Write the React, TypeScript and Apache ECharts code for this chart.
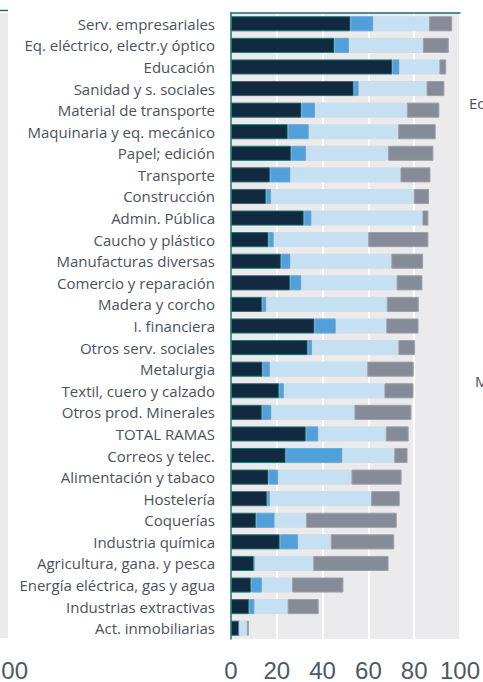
import React, { useEffect, useRef } from "react";
import * as echarts from "echarts";

const categories = [
  "Serv. empresariales",
  "Eq. eléctrico, electr.y óptico",
  "Educación",
  "Sanidad y s. sociales",
  "Material de transporte",
  "Maquinaria y eq. mecánico",
  "Papel; edición",
  "Transporte",
  "Construcción",
  "Admin. Pública",
  "Caucho y plástico",
  "Manufacturas diversas",
  "Comercio y reparación",
  "Madera y corcho",
  "I. financiera",
  "Otros serv. sociales",
  "Metalurgia",
  "Textil, cuero y calzado",
  "Otros prod. Minerales",
  "TOTAL RAMAS",
  "Correos y telec.",
  "Alimentación y tabaco",
  "Hostelería",
  "Coquerías",
  "Industria química",
  "Agricultura, gana. y pesca",
  "Energía eléctrica, gas y agua",
  "Industrias extractivas",
  "Act. inmobiliarias",
];

const seriesDark = [52.2, 45.2, 70.5, 53.6, 30.8, 24.8, 26.3, 17.1, 15.4, 31.8, 16.4, 21.8, 25.8, 13.6, 36.5, 33.5, 13.8, 21.0, 13.5, 32.7, 23.9, 16.4, 15.8, 11.0, 21.3, 10.0, 8.8, 7.9, 3.6];
const seriesMedium = [10.0, 6.4, 3.1, 2.2, 6.0, 9.2, 6.5, 8.9, 2.2, 3.4, 2.3, 4.2, 5.0, 1.9, 9.3, 2.0, 3.3, 2.2, 4.2, 5.5, 24.8, 4.3, 1.2, 8.1, 8.0, 0.4, 4.8, 2.4, 0.0];
const seriesLight = [24.3, 32.2, 17.4, 29.6, 40.0, 39.0, 35.8, 48.0, 62.2, 48.4, 41.2, 44.0, 41.5, 52.5, 22.0, 37.6, 42.4, 43.8, 36.2, 29.4, 22.6, 31.9, 44.2, 13.7, 14.3, 25.5, 13.1, 14.4, 3.3];
const seriesGrey = [10.1, 11.3, 3.0, 7.8, 14.2, 16.4, 19.8, 13.1, 6.7, 2.6, 26.3, 13.9, 11.3, 14.0, 14.1, 7.3, 20.3, 12.7, 24.9, 10.0, 5.8, 21.9, 12.5, 39.6, 27.7, 32.9, 22.4, 13.6, 0.9];
const xTicks = [0, 20, 40, 60, 80, 100];

const FONT = "Open Sans";
const AXFONT = "Liberation Sans";
const TEAL = "#1d6e6e";

export default function App() {
  const ref = useRef<HTMLDivElement>(null);
  useEffect(() => {
    if (!ref.current) return;
    const chart = echarts.init(ref.current, null, { renderer: "svg" });
    const mk = (name: string, data: number[], color: string, border: string) => ({
      name,
      type: "bar",
      stack: "total",
      barWidth: "70%",
      data,
      itemStyle: { color, borderColor: border, borderWidth: 1 },
    });
    chart.setOption({
      animation: false,
      backgroundColor: "#ffffff",
      grid: {
        left: 231,
        right: 22.5,
        top: 13,
        bottom: 43,
        containLabel: false,
        show: true,
        backgroundColor: "#ebebed",
        borderWidth: 0,
      },
      xAxis: [
        {
          type: "value",
          min: xTicks[0],
          max: xTicks[xTicks.length - 1],
          interval: 20,
          axisLine: { show: false },
          axisTick: { show: false },
          splitLine: { show: true, lineStyle: { color: "#ffffff", width: 2 } },
          axisLabel: {
            fontFamily: AXFONT,
            fontSize: 24,
            color: "#4d5966",
            margin: 19,
          },
        },
        {
          type: "value",
          position: "top",
          min: 0,
          max: 100,
          axisLine: { show: true, lineStyle: { color: TEAL, width: 1.5 } },
          axisTick: { show: false },
          axisLabel: { show: false },
          splitLine: { show: false },
        },
      ],
      yAxis: {
        type: "category",
        data: categories,
        inverse: true,
        axisLine: { show: true, lineStyle: { color: TEAL, width: 1.5 } },
        axisTick: { show: false },
        splitLine: { show: false },
        axisLabel: {
          fontFamily: FONT,
          fontSize: 15,
          color: "#4a525b",
          margin: 16,
        },
      },
      series: [
        mk("s1", seriesDark, "#112a40", "#237373"),
        mk("s2", seriesMedium, "#51a0dc", "#6aa9cf"),
        mk("s3", seriesLight, "#c6e0f3", "#cfdce6"),
        mk("s4", seriesGrey, "#868b98", "#9ba0aa"),
      ],
      graphic: [
        { type: "rect", shape: { x: 0, y: 13, width: 8, height: 625 }, style: { fill: "#ebebed" }, silent: true },
        { type: "line", shape: { x1: 0, y1: 10.5, x2: 8, y2: 10.5 }, style: { stroke: TEAL, lineWidth: 1.5 }, silent: true },
        { type: "text", x: 28, y: 670, style: { text: "00", fontFamily: AXFONT, fontSize: 24, fill: "#4d5966", align: "right", verticalAlign: "middle" } },
        { type: "text", x: 469, y: 103, style: { text: "Ec", fontFamily: FONT, fontSize: 15, fill: "#4a525b", align: "left", verticalAlign: "middle" } },
        { type: "text", x: 475, y: 381, style: { text: "M", fontFamily: FONT, fontSize: 15, fill: "#4a525b", align: "left", verticalAlign: "middle" } },
      ],
    });
    return () => chart.dispose();
  }, []);
  return (
    <div
      ref={ref}
      style={{ position: "absolute", left: 0, top: 0, width: 483, height: 682 }}
    />
  );
}
